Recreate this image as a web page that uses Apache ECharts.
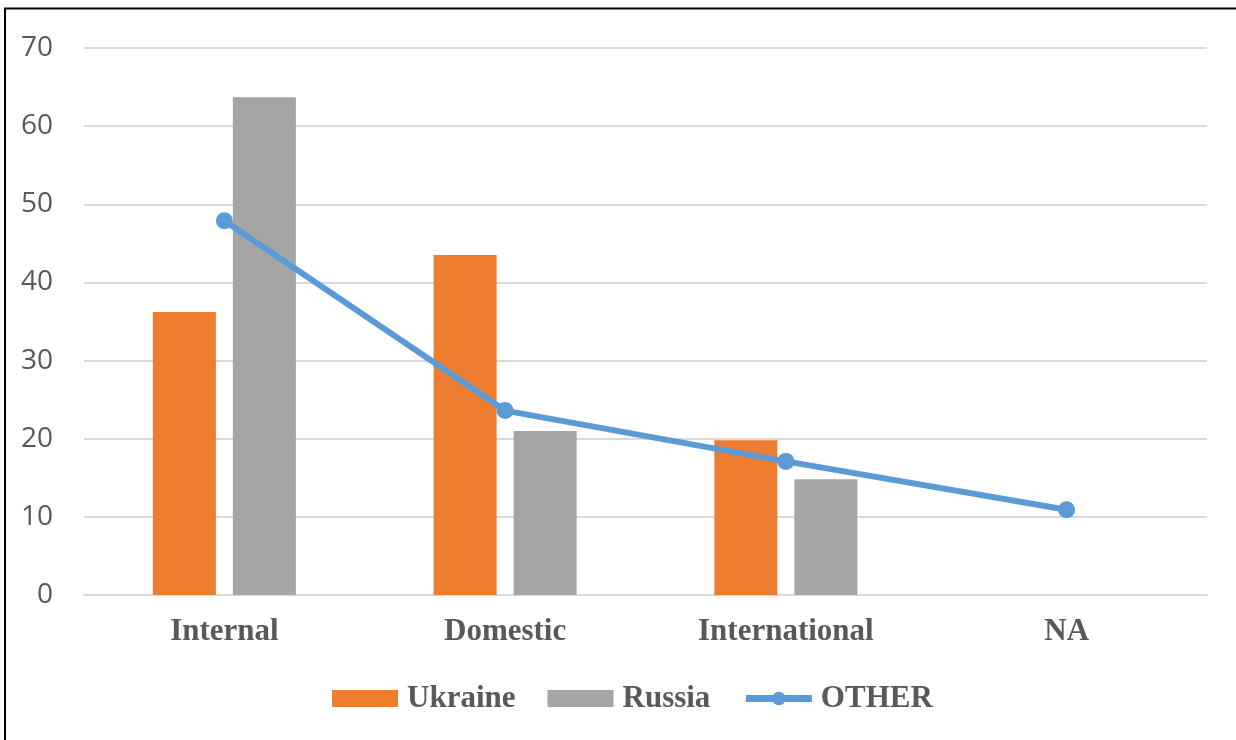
<!DOCTYPE html>
<html>
<head>
<meta charset="utf-8">
<script src="https://cdn.jsdelivr.net/npm/echarts@6/dist/echarts.min.js"></script>
<style>
html,body{margin:0;padding:0;background:#fff;}
#chart{width:1236px;height:740px;}
</style>
</head>
<body>
<div id="chart"></div>
<script>
const categories = ['Internal', 'Domestic', 'International', 'NA'];
const ukraine = [36.2, 43.5, 19.8, null];
const russia = [63.7, 21.0, 14.8, null];
const other = [47.9, 23.6, 17.1, 10.9];
const yTicks = { min: 0, max: 70, interval: 10 };

const chart = echarts.init(document.getElementById('chart'));
const labelColor = '#595959';
const serif = '"Liberation Serif", "Times New Roman", serif';

chart.setOption({
  animation: false,
  backgroundColor: '#ffffff',
  graphic: [{
    type: 'rect',
    shape: { x: 5, y: 8.5, width: 1300, height: 800 },
    style: { fill: 'none', stroke: '#000', lineWidth: 2 },
    silent: true
  }],
  grid: { left: 84, right: 29, top: 48, bottom: 145, containLabel: false },
  legend: {
    left: 327,
    top: 678,
    itemWidth: 66,
    itemHeight: 17,
    itemGap: 32,
    textStyle: { fontFamily: serif, fontWeight: 'bold', fontSize: 31, color: labelColor, padding: [0, 0, 0, 4] },
    data: [
      { name: 'Ukraine', icon: 'rect' },
      { name: 'Russia', icon: 'rect' },
      { name: 'OTHER', lineStyle: { width: 7 } }
    ]
  },
  xAxis: {
    type: 'category',
    data: categories,
    axisTick: { show: false },
    axisLine: { show: true, lineStyle: { color: '#D9D9D9', width: 2 } },
    axisLabel: { margin: 21, fontFamily: serif, fontWeight: 'bold', fontSize: 31, color: labelColor }
  },
  yAxis: {
    type: 'value',
    min: yTicks.min,
    max: yTicks.max,
    interval: yTicks.interval,
    axisLine: { show: false },
    axisTick: { show: false },
    splitLine: { lineStyle: { color: '#D9D9D9', width: 2 } },
    axisLabel: { margin: 31, fontFamily: '"Open Sans", sans-serif', fontSize: 28, color: labelColor }
  },
  series: [
    {
      name: 'Ukraine', type: 'bar', data: ukraine,
      barWidth: 63, barGap: '27%',
      itemStyle: { color: '#ED7D31' }
    },
    {
      name: 'Russia', type: 'bar', data: russia,
      barWidth: 63,
      itemStyle: { color: '#A5A5A5' }
    },
    {
      name: 'OTHER', type: 'line', data: other,
      symbol: 'circle', symbolSize: 17,
      lineStyle: { color: '#5B9BD5', width: 6 },
      itemStyle: { color: '#5B9BD5' },
      z: 5
    }
  ]
});
</script>
</body>
</html>
